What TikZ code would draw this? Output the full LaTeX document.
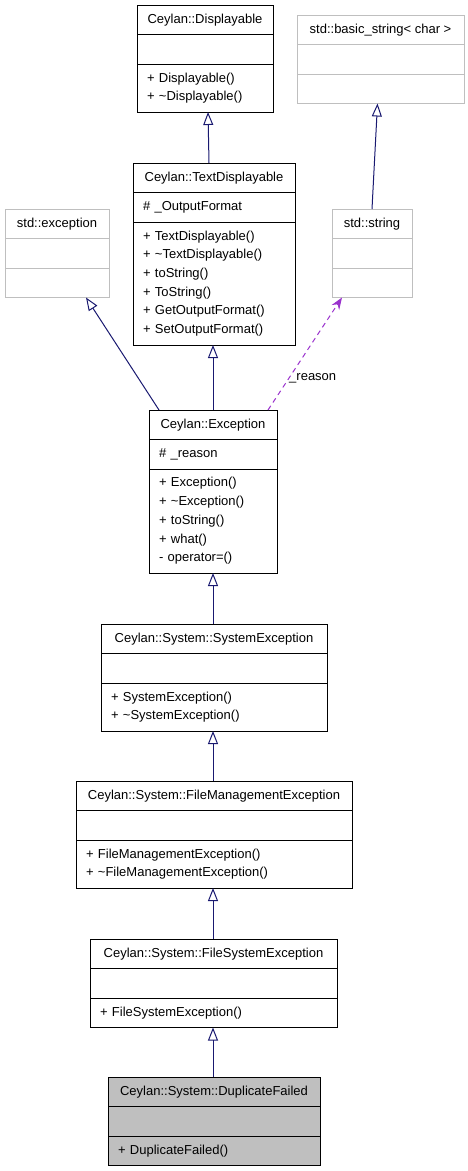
\documentclass[tikz,border=0pt]{standalone}
\usepackage{fontspec}
\setmainfont{Liberation Sans}
\usetikzlibrary{positioning, arrows.meta}
\definecolor{edgenavy}{RGB}{25,25,112}
\definecolor{usepurple}{RGB}{154,50,205}
\definecolor{extgray}{RGB}{191,191,191}

\begin{document}
\begin{tikzpicture}[
    x=1pt, y=-1pt,
    node distance=0pt,
    cell/.style={rectangle, draw=black, line width=1pt, inner xsep=10pt, inner ysep=0pt, outer sep=0pt, font=\fontsize{13}{18.7}\selectfont},
    head/.style={cell, minimum width=#1, minimum height=29.5pt},
    ops/.style={cell, text width=#1, align=left},
    ext/.style={draw=extgray, line width=1pt},
    inherit/.style={-{Triangle[open, length=13pt, width=10pt]}, line width=1pt, edgenavy},
    uses/.style={-{Stealth[length=12pt, width=9pt, inset=4pt]}, line width=1pt, usepurple, dash pattern=on 5pt off 4pt},
    lbl/.style={font=\fontsize{13}{15}\selectfont, text=black, inner sep=0pt}
]
    \useasboundingbox (0,0) rectangle (468,1171);

    % Displayable
    \node[head=136pt, anchor=north west] (disp) at (137,5) {Ceylan::Displayable};
    \node[head=136pt, below=of disp] (disp-a) {};
    \node[ops=116pt, minimum height=48pt, below=of disp-a] (disp-m) {+ Displayable()\\+ \textasciitilde Displayable()};

    % basic_string
    \node[head=167pt, ext, anchor=north west] (bstr) at (297,15) {std::basic\_string< char >};
    \node[head=167pt, ext, below=of bstr] (bstr-a) {};
    \node[head=167pt, ext, below=of bstr-a] (bstr-m) {};

    % TextDisplayable
    \node[head=162pt, anchor=north west] (textdisp) at (133,163) {Ceylan::TextDisplayable};
    \node[ops=142pt, minimum height=29.5pt, below=of textdisp] (textdisp-a) {\# \_OutputFormat};
    \node[ops=142pt, minimum height=123pt, below=of textdisp-a] (textdisp-m) {+ TextDisplayable()\\+ \textasciitilde TextDisplayable()\\+ toString()\\+ ToString()\\+ GetOutputFormat()\\+ SetOutputFormat()};

    % std::exception
    \node[head=104pt, ext, anchor=north west] (stdexc) at (5,209) {std::exception};
    \node[head=104pt, ext, below=of stdexc] (stdexc-a) {};
    \node[head=104pt, ext, below=of stdexc-a] (stdexc-m) {};

    % std::string
    \node[head=80pt, ext, anchor=north west] (str) at (332,209) {std::string};
    \node[head=80pt, ext, below=of str] (str-a) {};
    \node[head=80pt, ext, below=of str-a] (str-m) {};

    % Exception
    \node[head=128pt, anchor=north west] (exc) at (149,410) {Ceylan::Exception};
    \node[ops=108pt, minimum height=29.5pt, below=of exc] (exc-a) {\# \_reason};
    \node[ops=108pt, minimum height=104pt, below=of exc-a] (exc-m) {+ Exception()\\+ \textasciitilde Exception()\\+ toString()\\+ what()\\- operator=()};

    % SystemException
    \node[head=226pt, anchor=north west] (sysexc) at (101,624) {Ceylan::System::SystemException};
    \node[head=226pt, below=of sysexc] (sysexc-a) {};
    \node[ops=206pt, minimum height=48pt, below=of sysexc-a] (sysexc-m) {+ SystemException()\\+ \textasciitilde SystemException()};

    % FileManagementException
    \node[head=276pt, anchor=north west] (fmexc) at (76,781) {Ceylan::System::FileManagementException};
    \node[head=276pt, below=of fmexc] (fmexc-a) {};
    \node[ops=256pt, minimum height=48pt, below=of fmexc-a] (fmexc-m) {+ FileManagementException()\\+ \textasciitilde FileManagementException()};

    % FileSystemException
    \node[head=247pt, anchor=north west] (fsexc) at (90,939) {Ceylan::System::FileSystemException};
    \node[head=247pt, below=of fsexc] (fsexc-a) {};
    \node[ops=227pt, minimum height=29.5pt, below=of fsexc-a] (fsexc-m) {+ FileSystemException()};

    % DuplicateFailed
    \node[head=212pt, fill=extgray, anchor=north west] (dup) at (108,1077) {Ceylan::System::DuplicateFailed};
    \node[head=212pt, fill=extgray, below=of dup] (dup-a) {};
    \node[ops=192pt, fill=extgray, minimum height=29.5pt, below=of dup-a] (dup-m) {+ DuplicateFailed()};

    % Arrows
    \draw[inherit] ([xshift=-5pt]textdisp.north) -- ([xshift=3pt]disp-m.south);
    \draw[inherit] (str.north) -- ([xshift=-3pt]bstr-m.south);
    \draw[inherit] ([xshift=-54pt]exc.north) -- ([xshift=29pt]stdexc-m.south);
    \draw[inherit] (exc.north) -- ([xshift=-1pt]textdisp-m.south);
    \draw[uses] ([xshift=55pt]exc.north) -- node[lbl, pos=0.28, anchor=west] (reason) {\_reason} ([xshift=-30pt]str-m.south);
    \draw[inherit] ([xshift=-1pt]sysexc.north) -- (exc-m.south);
    \draw[inherit] ([xshift=-1pt]fmexc.north) -- ([xshift=-1pt]sysexc-m.south);
    \draw[inherit] ([xshift=-0.5pt]fsexc.north) -- ([xshift=-1pt]fmexc-m.south);
    \draw[inherit] ([xshift=-1pt]dup.north) -- ([xshift=-0.5pt]fsexc-m.south);
\end{tikzpicture}
\end{document}
